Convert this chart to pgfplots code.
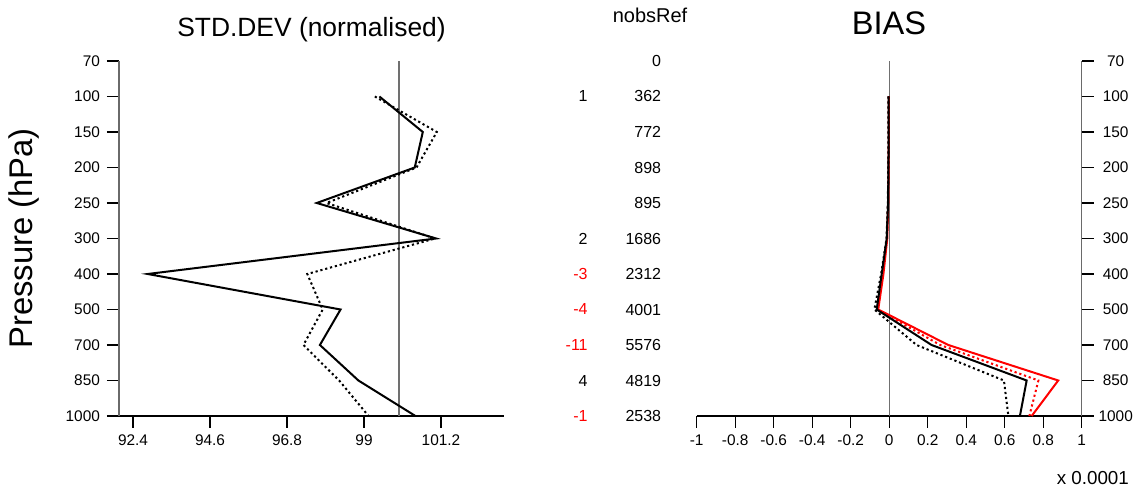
\documentclass[border=0pt]{standalone}
\usepackage{pgfplots}
\pgfplotsset{compat=1.18}
\usepackage{fontspec}
\setmainfont{Liberation Sans}

\definecolor{axisgray}{HTML}{6A6A6A}
\definecolor{zerogray}{HTML}{707070}

% common layout of the two vertical profiles (pressure levels as categories)
\pgfplotsset{
  profile/.style={
    scale only axis, width=192.5pt, height=177.5pt,
    symbolic y coords={1000,850,700,500,400,300,250,200,150,100,70},
    ymin=1000, ymax=70,
    ytick={1000,850,700,500,400,300,250,200,150,100,70},
    tick align=outside, major tick length=6pt,
    tick label style={font=\fontsize{7.7}{9}\selectfont},
    axis line style={-},
    x axis line style={black, line width=0.6pt},
    y axis line style={axisgray, line width=0.7pt},
    tick style={black, line width=0.6pt},
    clip=false,
  },
  solidline/.style={line width=1pt},
  dotline/.style={line width=1pt, dash pattern=on 1.1pt off 1.4pt},
}

\begin{document}
\begin{tikzpicture}
\path[use as bounding box] (0,0) rectangle (572pt,245.5pt);

% ---------- STD.DEV (normalised) ----------
\begin{axis}[profile, at={(59.5pt,37.5pt)}, anchor=south west,
  xmin=92, xmax=103,
  axis x line*=bottom, axis y line*=left,
  xtick={92.4,94.6,96.8,99,101.2},
  xticklabels={92.4,94.6,96.8,99,101.2}]
\addplot[zerogray, line width=0.65pt] coordinates {(100,1000) (100,70)};
\addplot[black, dotline] coordinates {
  (99.31,100) (101.08,150) (100.50,200) (97.93,250) (101.03,300)
  (97.38,400) (97.82,500) (97.27,700) (98.29,850) (99.13,1000)};
\addplot[black, solidline] coordinates {
  (99.44,100) (100.68,150) (100.45,200) (97.65,250) (101.06,300)
  (92.82,400) (98.33,500) (97.74,700) (98.84,850) (100.47,1000)};

% nobs difference and nobsRef columns
\foreach \lev/\val/\col in {100/1/black,300/2/black,400/-3/red,500/-4/red,
  700/-11/red,850/4/black,1000/-1/red}{
  \edef\tmp{\noexpand\node[anchor=east, inner sep=0pt, text=\col,
    font=\noexpand\fontsize{8}{9}\noexpand\selectfont]
    at (axis cs:105.4,\lev) {\val};}
  \tmp
}
\foreach \lev/\val in {70/0,100/362,150/772,200/898,250/895,300/1686,
  400/2312,500/4001,700/5576,850/4819,1000/2538}{
  \edef\tmp{\noexpand\node[anchor=east, inner sep=0pt,
    font=\noexpand\fontsize{8}{9}\noexpand\selectfont]
    at (axis cs:107.5,\lev) {\val};}
  \tmp
}
\end{axis}

% ---------- BIAS ----------
\begin{axis}[profile, at={(348.35pt,37.5pt)}, anchor=south west,
  xmin=-1, xmax=1,
  axis x line*=bottom, axis y line*=right,
  xtick={-1,-0.8,-0.6,-0.4,-0.2,0,0.2,0.4,0.6,0.8,1},
  xticklabels={-1,-0.8,-0.6,-0.4,-0.2,0,0.2,0.4,0.6,0.8,1},
  yticklabel style={anchor=center, xshift=11pt}]
\addplot[zerogray, line width=0.65pt] coordinates {(0,1000) (0,70)};
\addplot[red, solidline] coordinates {
  (-0.002,100) (-0.002,150) (-0.003,200) (-0.005,250) (-0.010,300)
  (-0.030,400) (-0.057,500) (0.307,700) (0.878,850) (0.740,1000)};
\addplot[red, dotline] coordinates {
  (-0.003,100) (-0.003,150) (-0.004,200) (-0.006,250) (-0.012,300)
  (-0.035,400) (-0.062,500) (0.265,700) (0.775,850) (0.728,1000)};
\addplot[black, dotline] coordinates {
  (-0.004,100) (-0.004,150) (-0.005,200) (-0.007,250) (-0.014,300)
  (-0.042,400) (-0.077,500) (0.142,700) (0.596,850) (0.619,1000)};
\addplot[black, solidline] coordinates {
  (-0.003,100) (-0.003,150) (-0.004,200) (-0.006,250) (-0.013,300)
  (-0.039,400) (-0.065,500) (0.220,700) (0.714,850) (0.679,1000)};
\end{axis}

% titles and labels
\node[font=\fontsize{13.2}{15}\selectfont] at (155.75pt,230.5pt) {STD.DEV (normalised)};
\node[font=\fontsize{16.3}{18}\selectfont] at (444.5pt,233.85pt) {BIAS};
\node[font=\fontsize{10}{12}\selectfont] at (325pt,238pt) {nobsRef};
\node[rotate=90, font=\fontsize{16.4}{18}\selectfont] at (12pt,126.25pt) {Pressure (hPa)};
\node[anchor=east, inner sep=0pt, font=\fontsize{9.4}{11}\selectfont] at (564.65pt,6.5pt) {x 0.0001};
\end{tikzpicture}
\end{document}
